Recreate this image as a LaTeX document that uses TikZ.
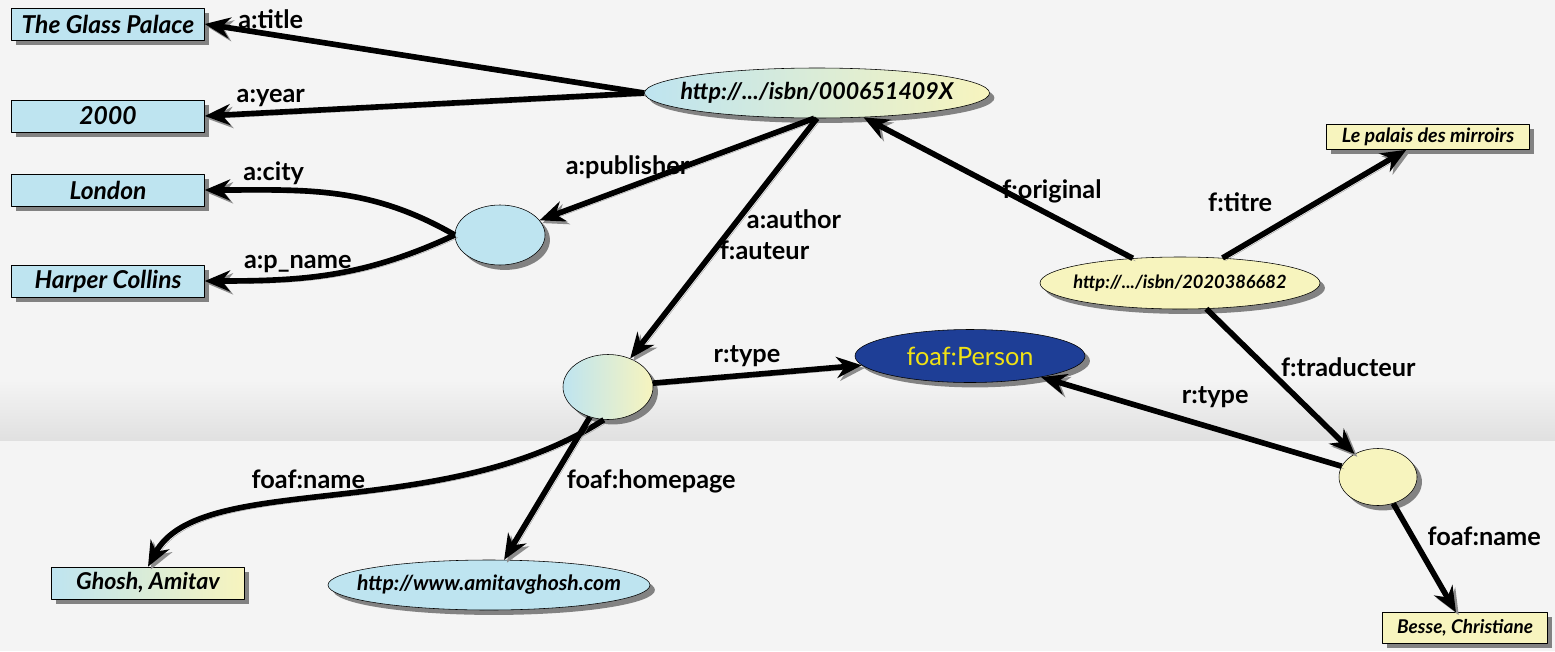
\documentclass[tikz,border=0pt]{standalone}
\usepackage{fontspec}
\setmainfont{Lato}
\usetikzlibrary{arrows.meta,shapes.geometric,shadows,positioning}
\definecolor{litblue}{RGB}{190,228,240}
\definecolor{lityellow}{RGB}{247,244,190}
\definecolor{persblue}{RGB}{30,62,150}
\definecolor{persyellow}{RGB}{240,226,20}
\definecolor{bggray}{RGB}{244,244,244}
\begin{document}
\begin{tikzpicture}[x=0.5mm, y=-0.5mm, line join=round, >=Stealth]

		\tikzset{shad/.style={drop shadow={shadow xshift=7pt,shadow yshift=-7pt,fill=black!60,opacity=.8}},
			lit/.style={rectangle, draw=black, thick, shad, font=\fontsize{35}{40}\selectfont\bfseries\itshape, minimum width=96.5mm, minimum height=16mm, inner sep=2pt},
			res/.style={ellipse, draw=black, thick, shad, font=\fontsize{33}{38}\selectfont\bfseries\itshape, inner sep=0pt},
			arc/.style={line width=8pt, -{Stealth[length=36pt,width=30pt]}, preaction={draw=black!45, transform canvas={shift={(4pt,-4pt)}}}},
			lbl/.style={font=\fontsize{36}{40}\selectfont\bfseries, inner sep=4pt}}

		\useasboundingbox (0,0) rectangle (1555,651);
		\fill[bggray] (0,0) rectangle (1555,651);
		\shade[top color=bggray, bottom color=black!12] (0,380) rectangle (1555,440);

		\node[lit, fill=litblue] (title) at (108,24) {The Glass Palace};
		\node[lit, fill=litblue] (year) at (108,116) {2000};
		\node[lit, fill=litblue] (city) at (108,190) {London};
		\node[lit, fill=litblue] (pname) at (108,281) {Harper Collins};
		\node[res, left color=litblue, right color=lityellow, inner xsep=-24pt, minimum width=172.5mm, minimum height=25mm] (isbnA) at (817,93) {http://.../isbn/000651409X};
		\node[res, fill=litblue, minimum width=45mm, minimum height=30mm] (pub) at (500,235) {};
		\node[res, left color=litblue, right color=lityellow, minimum width=45mm, minimum height=32.5mm] (author) at (608,387) {};
		\node[res, fill=persblue, text=persyellow, font=\fontsize{36}{40}\selectfont, minimum width=115mm, minimum height=26.5mm] (person) at (970,356) {foaf:Person};
		\node[res, fill=lityellow, font=\fontsize{26}{30}\selectfont\bfseries\itshape, inner xsep=-13pt, minimum width=140mm, minimum height=26mm] (isbnB) at (1180,283) {http://.../isbn/2020386682};
		\node[lit, fill=lityellow, font=\fontsize{28}{32}\selectfont\bfseries\itshape, minimum width=101.5mm, minimum height=12.5mm] (titre) at (1428,137) {Le palais des mirroirs};
		\node[res, fill=lityellow, minimum width=39mm, minimum height=28.5mm] (transl) at (1378,477) {};
		\node[lit, fill=lityellow, font=\fontsize{27}{30}\selectfont\bfseries\itshape, minimum width=82.5mm, minimum height=15.5mm] (besse) at (1465,628) {Besse, Christiane};
		\node[lit, left color=litblue, right color=lityellow, font=\fontsize{33}{38}\selectfont\bfseries\itshape] (ghosh) at (148,583) {Ghosh, Amitav};
		\node[res, fill=litblue, font=\fontsize{30}{34}\selectfont\bfseries\itshape, inner xsep=-26pt, minimum width=161mm, minimum height=25mm] (homepage) at (489,585) {http://www.amitavghosh.com};

		\draw[arc] (isbnA.west) -- (title.east) node[lbl, above, pos=.85] (ltitle) {a:title};
		\draw[arc] (isbnA.west) -- (year.east) node[lbl, above, pos=.85] (lyear) {a:year};
		\draw[arc] ([xshift=-4pt]isbnA.south) -- (pub) node[lbl, above, pos=.68, yshift=4pt] (lpub) {a:publisher};
		\draw[arc] (isbnA.south) -- (author) node[lbl, right, pos=.42, xshift=4pt] (lauthor) {a:author} node[lbl, right, pos=.55] (lauteur) {f:auteur};
		\draw[arc] (pub.west) to[out=150,in=0] node[lbl, above, pos=.75] (lcity) {a:city} (city.east);
		\draw[arc] (pub.west) to[out=205,in=0] node[lbl, above, pos=.65] (lpname) {a:p\_name} (pname.east);
		\draw[arc] (isbnB) -- (isbnA) node[lbl, above, pos=.3, yshift=10pt] (lorig) {f:original};
		\draw[arc] (isbnB) -- (titre) node[lbl, above left, pos=.3, yshift=12pt] (ltitre) {f:titre};
		\draw[arc] (isbnB) -- (transl) node[lbl, right, pos=.4, xshift=14pt] (ltrad) {f:traducteur};
		\draw[arc] (author) -- (person) node[lbl, above, pos=.45, yshift=4pt] (ltypeA) {r:type};
		\draw[arc] (transl) -- (person) node[lbl, above right, pos=.55, yshift=6pt] (ltypeB) {r:type};
		\draw[arc] ([xshift=-6pt]author.south) .. controls (440,525) and (200,470) .. (ghosh.north) node[lbl, above, pos=.55, yshift=8pt] (lnameA) {foaf:name};
		\draw[arc] (author) -- (homepage) node[lbl, right, pos=.45, xshift=14pt] (lhome) {foaf:homepage};
		\draw[arc] (transl) -- (besse) node[lbl, right, pos=.3, xshift=14pt] (lnameB) {foaf:name};
		\end{tikzpicture}
\end{document}
